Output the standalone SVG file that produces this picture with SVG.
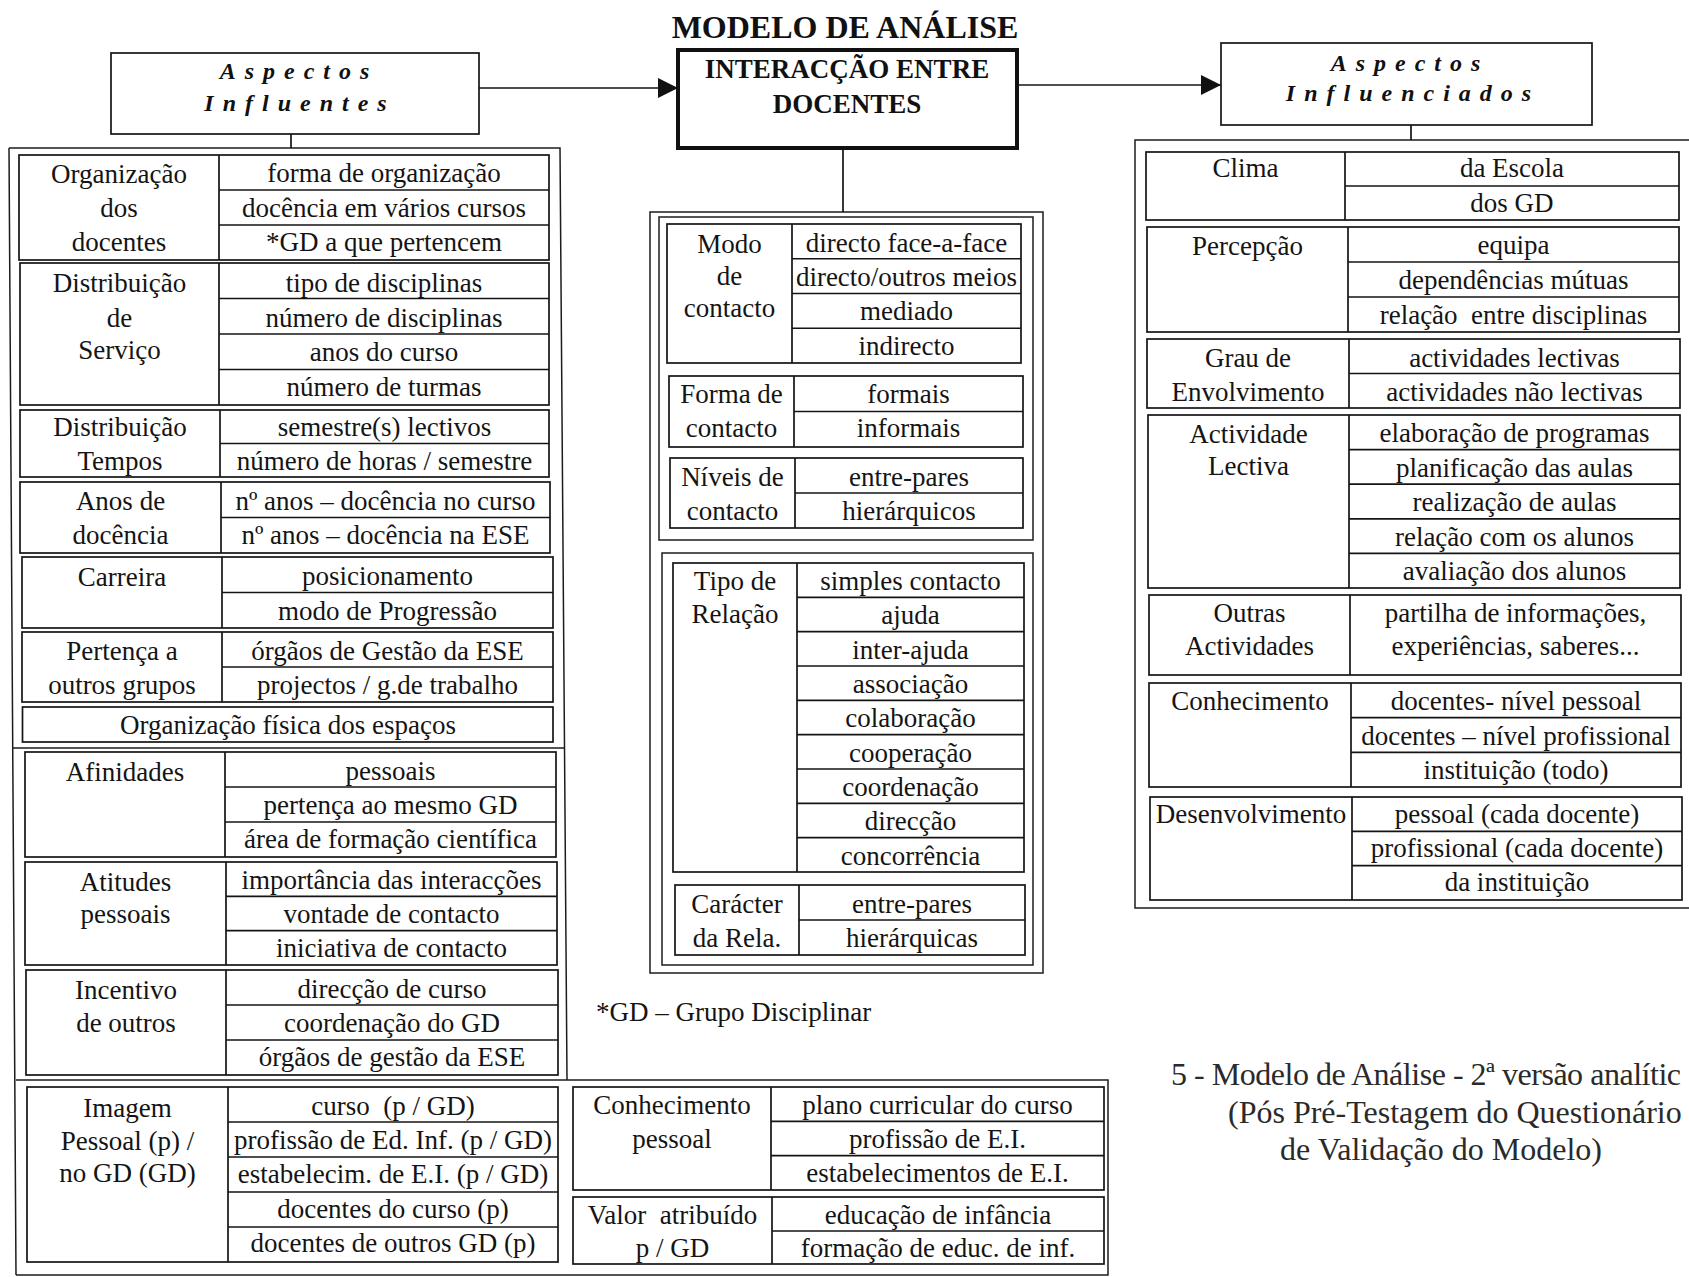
<svg xmlns="http://www.w3.org/2000/svg" width="1689" height="1277" viewBox="0 0 1689 1277">
  <style>
    .b { fill: none; stroke: #141414; stroke-width: 1.7; }
    .fr { fill: none; stroke: #1c1c1c; stroke-width: 1.5; }
    .t { font-family: "Liberation Serif", "Times New Roman", serif; font-size: 27px; fill: #141414; text-anchor: middle; }
    .hd { font-family: "Liberation Serif", "Times New Roman", serif; font-size: 24px; font-weight: bold; font-style: italic; letter-spacing: 9px; fill: #111; text-anchor: middle; }
    .bt { font-family: "Liberation Serif", "Times New Roman", serif; font-weight: bold; fill: #111; text-anchor: middle; }
    .cap { font-family: "Liberation Serif", "Times New Roman", serif; font-size: 32px; fill: #2a2a2a; }
    .ln { fill: none; stroke: #141414; stroke-width: 1.7; }
  </style>
  <defs>
    <marker id="arrow" viewBox="0 0 20 20" refX="20" refY="10" markerWidth="20" markerHeight="20" markerUnits="userSpaceOnUse" orient="auto">
      <path d="M0 0 L20 10 L0 20 Z" fill="#111"/>
    </marker>
  </defs>
  <rect width="1689" height="1277" fill="#ffffff"/>

  <!-- title -->
  <text class="bt" x="845" y="38" font-size="32">MODELO DE ANÁLISE</text>

  <!-- frames that hold the groups of blocks -->
  <g id="frames">
    <path class="fr" d="M9 148 H560 L567 1080 M9 148 L16 1275 M13 748 H564 M16 1080 H1108 V1275 H16"/>
    <rect class="fr" x="650" y="212" width="393" height="761"/>
    <rect class="fr" x="659" y="217" width="374" height="323"/>
    <rect class="fr" x="662" y="553" width="371" height="412"/>
    <path class="fr" d="M1700 140 H1135 V908 H1700"/>
  </g>

  <!-- connectors -->
  <g id="connectors">
    <line class="ln" x1="479" y1="88" x2="678" y2="88" marker-end="url(#arrow)"/>
    <line class="ln" x1="1019" y1="85" x2="1221" y2="85" marker-end="url(#arrow)"/>
    <line class="ln" x1="291" y1="134" x2="291" y2="148"/>
    <line class="ln" x1="843" y1="148" x2="843" y2="212"/>
    <line class="ln" x1="1411" y1="125" x2="1411" y2="140"/>
  </g>

  <!-- header nodes -->
  <g id="aspectos-influentes">
    <rect class="b" x="111" y="53" width="368" height="81"/>
    <text class="hd" x="299" y="79">Aspectos</text>
    <text class="hd" x="300" y="111">Influentes</text>
  </g>
  <g id="interaccao">
    <rect fill="none" stroke="#111" stroke-width="4" x="678" y="50" width="339" height="98"/>
    <text class="bt" x="847" y="78" font-size="27">INTERACÇÃO ENTRE</text>
    <text class="bt" x="847" y="113" font-size="27">DOCENTES</text>
  </g>
  <g id="aspectos-influenciados">
    <rect class="b" x="1221" y="43" width="371" height="82"/>
    <text class="hd" x="1410" y="71">Aspectos</text>
    <text class="hd" x="1413" y="101">Influenciados</text>
  </g>

  <!-- left column -->
  <g id="organizacao-docentes">
    <rect class="b" x="19" y="155" width="530" height="105"/>
    <path class="b" d="M219 155V260M219 190H549M219 225H549"/>
    <text class="t" x="119" y="183">Organização</text>
    <text class="t" x="119" y="217">dos</text>
    <text class="t" x="119" y="251">docentes</text>
    <text class="t" x="384" y="182">forma de organização</text>
    <text class="t" x="384" y="217">docência em vários cursos</text>
    <text class="t" x="384" y="251">*GD a que pertencem</text>
  </g>
  <g id="distribuicao-servico">
    <rect class="b" x="20" y="263" width="529" height="142"/>
    <path class="b" d="M219 263V405M219 298.5H549M219 334H549M219 369.5H549"/>
    <text class="t" x="119.5" y="292">Distribuição</text>
    <text class="t" x="119.5" y="327">de</text>
    <text class="t" x="119.5" y="359">Serviço</text>
    <text class="t" x="384" y="292">tipo de disciplinas</text>
    <text class="t" x="384" y="327">número de disciplinas</text>
    <text class="t" x="384" y="361">anos do curso</text>
    <text class="t" x="384" y="396">número de turmas</text>
  </g>
  <g id="distribuicao-tempos">
    <rect class="b" x="20" y="410" width="529" height="67"/>
    <path class="b" d="M220 410V477M220 443.5H549"/>
    <text class="t" x="120" y="436">Distribuição</text>
    <text class="t" x="120" y="470">Tempos</text>
    <text class="t" x="384.5" y="436">semestre(s) lectivos</text>
    <text class="t" x="384.5" y="470">número de horas / semestre</text>
  </g>
  <g id="anos-docencia">
    <rect class="b" x="20" y="482" width="530" height="71"/>
    <path class="b" d="M221 482V553M221 517.5H550"/>
    <text class="t" x="120.5" y="510">Anos de</text>
    <text class="t" x="120.5" y="544">docência</text>
    <text class="t" x="385.5" y="510">nº anos – docência no curso</text>
    <text class="t" x="385.5" y="544">nº anos – docência na ESE</text>
  </g>
  <g id="carreira">
    <rect class="b" x="22" y="557" width="531" height="71"/>
    <path class="b" d="M222 557V628M222 592.5H553"/>
    <text class="t" x="122" y="586">Carreira</text>
    <text class="t" x="387.5" y="585">posicionamento</text>
    <text class="t" x="387.5" y="620">modo de Progressão</text>
  </g>
  <g id="pertenca-grupos">
    <rect class="b" x="22" y="632" width="531" height="70"/>
    <path class="b" d="M222 632V702M222 667H553"/>
    <text class="t" x="122" y="660">Pertença a</text>
    <text class="t" x="122" y="694">outros grupos</text>
    <text class="t" x="387.5" y="660">órgãos de Gestão da ESE</text>
    <text class="t" x="387.5" y="694">projectos / g.de trabalho</text>
  </g>
  <g id="organizacao-espacos">
    <rect class="b" x="22.5" y="707" width="530.5" height="35"/>
    <text class="t" x="288" y="734">Organização física dos espaços</text>
  </g>
  <g id="afinidades">
    <rect class="b" x="25" y="752" width="531" height="105"/>
    <path class="b" d="M225 752V857M225 787H556M225 822H556"/>
    <text class="t" x="125" y="781">Afinidades</text>
    <text class="t" x="390.5" y="780">pessoais</text>
    <text class="t" x="390.5" y="814">pertença ao mesmo GD</text>
    <text class="t" x="390.5" y="848">área de formação científica</text>
  </g>
  <g id="atitudes-pessoais">
    <rect class="b" x="25" y="862" width="532" height="103"/>
    <path class="b" d="M226 862V965M226 896.3H557M226 930.7H557"/>
    <text class="t" x="125.5" y="891">Atitudes</text>
    <text class="t" x="125.5" y="923">pessoais</text>
    <text class="t" x="391.5" y="889">importância das interacções</text>
    <text class="t" x="391.5" y="923">vontade de contacto</text>
    <text class="t" x="391.5" y="957">iniciativa de contacto</text>
  </g>
  <g id="incentivo-outros">
    <rect class="b" x="26" y="970" width="532" height="105"/>
    <path class="b" d="M226 970V1075M226 1005H558M226 1040H558"/>
    <text class="t" x="126" y="999">Incentivo</text>
    <text class="t" x="126" y="1032">de outros</text>
    <text class="t" x="392" y="998">direcção de curso</text>
    <text class="t" x="392" y="1032">coordenação do GD</text>
    <text class="t" x="392" y="1066">órgãos de gestão da ESE</text>
  </g>
  <g id="imagem">
    <rect class="b" x="27" y="1087" width="531" height="175"/>
    <path class="b" d="M228 1087V1262M228 1122H558M228 1157H558M228 1192H558M228 1227H558"/>
    <text class="t" x="127.5" y="1117">Imagem</text>
    <text class="t" x="127.5" y="1150">Pessoal (p) /</text>
    <text class="t" x="127.5" y="1182">no GD (GD)</text>
    <text class="t" x="393" y="1115" xml:space="preserve">curso  (p / GD)</text>
    <text class="t" x="393" y="1149">profissão de Ed. Inf. (p / GD)</text>
    <text class="t" x="393" y="1183">estabelecim. de E.I. (p / GD)</text>
    <text class="t" x="393" y="1218">docentes do curso (p)</text>
    <text class="t" x="393" y="1252">docentes de outros GD (p)</text>
  </g>

  <!-- middle column -->
  <g id="modo-contacto">
    <rect class="b" x="667" y="224" width="354" height="139"/>
    <path class="b" d="M792 224V363M792 258.75H1021M792 293.5H1021M792 328.25H1021"/>
    <text class="t" x="729.5" y="253">Modo</text>
    <text class="t" x="729.5" y="285">de</text>
    <text class="t" x="729.5" y="317">contacto</text>
    <text class="t" x="906.5" y="252">directo face-a-face</text>
    <text class="t" x="906.5" y="286">directo/outros meios</text>
    <text class="t" x="906.5" y="320">mediado</text>
    <text class="t" x="906.5" y="355">indirecto</text>
  </g>
  <g id="forma-contacto">
    <rect class="b" x="669" y="376" width="354" height="71"/>
    <path class="b" d="M794 376V447M794 411.5H1023"/>
    <text class="t" x="731.5" y="403">Forma de</text>
    <text class="t" x="731.5" y="437">contacto</text>
    <text class="t" x="908.5" y="403">formais</text>
    <text class="t" x="908.5" y="437">informais</text>
  </g>
  <g id="niveis-contacto">
    <rect class="b" x="670" y="458" width="353" height="70"/>
    <path class="b" d="M795 458V528M795 493H1023"/>
    <text class="t" x="732.5" y="486">Níveis de</text>
    <text class="t" x="732.5" y="520">contacto</text>
    <text class="t" x="909" y="486">entre-pares</text>
    <text class="t" x="909" y="520">hierárquicos</text>
  </g>
  <g id="tipo-relacao">
    <rect class="b" x="673" y="563" width="351" height="309"/>
    <path class="b" d="M797 563V872M797 597.3H1024M797 631.7H1024M797 666H1024M797 700.3H1024M797 734.7H1024M797 769H1024M797 803.3H1024M797 837.7H1024"/>
    <text class="t" x="735" y="590">Tipo de</text>
    <text class="t" x="735" y="623">Relação</text>
    <text class="t" x="910.5" y="590">simples contacto</text>
    <text class="t" x="910.5" y="624">ajuda</text>
    <text class="t" x="910.5" y="659">inter-ajuda</text>
    <text class="t" x="910.5" y="693">associação</text>
    <text class="t" x="910.5" y="727">colaboração</text>
    <text class="t" x="910.5" y="762">cooperação</text>
    <text class="t" x="910.5" y="796">coordenação</text>
    <text class="t" x="910.5" y="830">direcção</text>
    <text class="t" x="910.5" y="865">concorrência</text>
  </g>
  <g id="caracter-relacao">
    <rect class="b" x="675" y="885" width="350" height="70"/>
    <path class="b" d="M799 885V955M799 920H1025"/>
    <text class="t" x="737" y="913">Carácter</text>
    <text class="t" x="737" y="947">da Rela.</text>
    <text class="t" x="912" y="913">entre-pares</text>
    <text class="t" x="912" y="947">hierárquicas</text>
  </g>

  <text class="t" x="596" y="1021" style="text-anchor:start">*GD – Grupo Disciplinar</text>

  <!-- bottom middle -->
  <g id="conhecimento-pessoal">
    <rect class="b" x="573" y="1087" width="531" height="103"/>
    <path class="b" d="M771 1087V1190M771 1121.3H1104M771 1155.7H1104"/>
    <text class="t" x="672" y="1114">Conhecimento</text>
    <text class="t" x="672" y="1148">pessoal</text>
    <text class="t" x="937.5" y="1114">plano curricular do curso</text>
    <text class="t" x="937.5" y="1148">profissão de E.I.</text>
    <text class="t" x="937.5" y="1182">estabelecimentos de E.I.</text>
  </g>
  <g id="valor-atribuido">
    <rect class="b" x="573" y="1197" width="531" height="67"/>
    <path class="b" d="M772 1197V1264M772 1231H1104"/>
    <text class="t" x="672.5" y="1224" xml:space="preserve">Valor  atribuído</text>
    <text class="t" x="672.5" y="1257">p / GD</text>
    <text class="t" x="938" y="1224">educação de infância</text>
    <text class="t" x="938" y="1257">formação de educ. de inf.</text>
  </g>

  <!-- right column -->
  <g id="clima">
    <rect class="b" x="1146" y="152" width="533" height="68"/>
    <path class="b" d="M1345 152V220M1345 186H1679"/>
    <text class="t" x="1245.5" y="177">Clima</text>
    <text class="t" x="1512" y="177">da Escola</text>
    <text class="t" x="1512" y="212">dos GD</text>
  </g>
  <g id="percepcao">
    <rect class="b" x="1147" y="227" width="532" height="105"/>
    <path class="b" d="M1348 227V332M1348 262H1679M1348 297H1679"/>
    <text class="t" x="1247.5" y="255">Percepção</text>
    <text class="t" x="1513.5" y="254">equipa</text>
    <text class="t" x="1513.5" y="289">dependências mútuas</text>
    <text class="t" x="1513.5" y="324" xml:space="preserve">relação  entre disciplinas</text>
  </g>
  <g id="grau-envolvimento">
    <rect class="b" x="1147" y="339" width="533" height="69"/>
    <path class="b" d="M1349 339V408M1349 373.5H1680"/>
    <text class="t" x="1248" y="367">Grau de</text>
    <text class="t" x="1248" y="401">Envolvimento</text>
    <text class="t" x="1514.5" y="367">actividades lectivas</text>
    <text class="t" x="1514.5" y="401">actividades não lectivas</text>
  </g>
  <g id="actividade-lectiva">
    <rect class="b" x="1148" y="415" width="532" height="173"/>
    <path class="b" d="M1349 415V588M1349 449.6H1680M1349 484.2H1680M1349 518.8H1680M1349 553.4H1680"/>
    <text class="t" x="1248.5" y="443">Actividade</text>
    <text class="t" x="1248.5" y="475">Lectiva</text>
    <text class="t" x="1514.5" y="442">elaboração de programas</text>
    <text class="t" x="1514.5" y="477">planificação das aulas</text>
    <text class="t" x="1514.5" y="511">realização de aulas</text>
    <text class="t" x="1514.5" y="546">relação com os alunos</text>
    <text class="t" x="1514.5" y="580">avaliação dos alunos</text>
  </g>
  <g id="outras-actividades">
    <rect class="b" x="1149" y="595" width="532" height="80"/>
    <path class="b" d="M1350 595V675"/>
    <text class="t" x="1249.5" y="622">Outras</text>
    <text class="t" x="1249.5" y="655">Actividades</text>
    <text class="t" x="1515.5" y="622">partilha de informações,</text>
    <text class="t" x="1515.5" y="655">experiências, saberes...</text>
  </g>
  <g id="conhecimento">
    <rect class="b" x="1149" y="683" width="532" height="104"/>
    <path class="b" d="M1351 683V787M1351 717.7H1681M1351 752.3H1681"/>
    <text class="t" x="1250" y="710">Conhecimento</text>
    <text class="t" x="1516" y="710">docentes- nível pessoal</text>
    <text class="t" x="1516" y="745">docentes – nível profissional</text>
    <text class="t" x="1516" y="779">instituição (todo)</text>
  </g>
  <g id="desenvolvimento">
    <rect class="b" x="1150" y="797" width="532" height="103"/>
    <path class="b" d="M1352 797V900M1352 831.3H1682M1352 865.7H1682"/>
    <text class="t" x="1251" y="823">Desenvolvimento</text>
    <text class="t" x="1517" y="823">pessoal (cada docente)</text>
    <text class="t" x="1517" y="857">profissional (cada docente)</text>
    <text class="t" x="1517" y="891">da instituição</text>
  </g>

  <!-- caption -->
  <g id="caption">
    <text class="cap" x="1171" y="1085" font-size="27.5" textLength="510">5 - Modelo de Análise - 2ª versão analític</text>
    <text class="cap" x="1228" y="1123" font-size="30">(Pós Pré-Testagem do Questionário</text>
    <text class="cap" x="1280" y="1160">de Validação do Modelo)</text>
  </g>
</svg>
